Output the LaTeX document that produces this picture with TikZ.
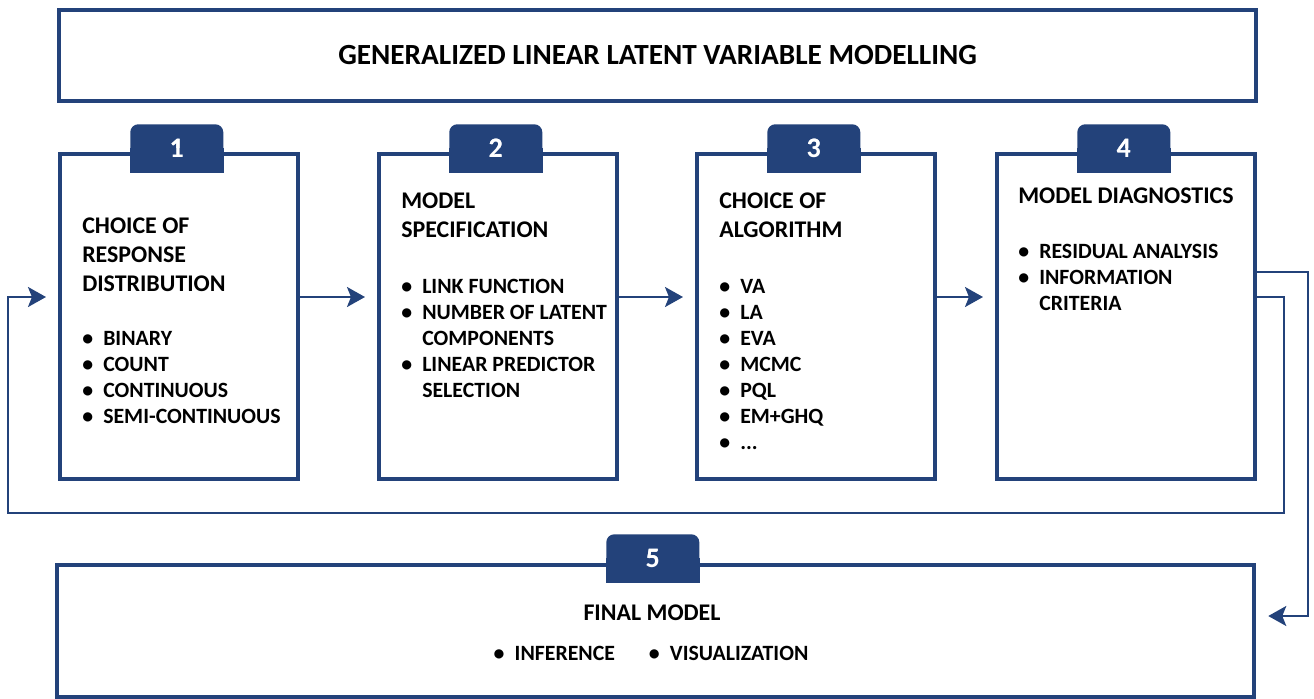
\documentclass[tikz,border=0pt]{standalone}
\usepackage{fontspec}
\setmainfont{Carlito}
\usetikzlibrary{arrows.meta}
\definecolor{navy}{RGB}{35,66,122}
\newcommand\blt{\makebox[0.525cm][l]{\textbullet}}

\begin{document}
\begin{tikzpicture}[x=0.025cm, y=-0.025cm,
    box/.style={draw=navy, line width=2.8pt, fill=white, anchor=north west, inner sep=0pt},
    tab/.style={fill=navy, rounded corners=0.2cm, anchor=north west, minimum width=2.325cm,
      minimum height=1.2cm, inner sep=0pt, text=white, font=\fontsize{20}{24}\selectfont\bfseries},
    conn/.style={draw=navy, line width=1.6pt, shorten >=0.3cm,
      -{Stealth[length=0.45cm, width=0.5cm, inset=0.1cm]}},
    head/.style={anchor=north west, inner sep=0pt, font=\fontsize{17}{20.6}\selectfont\bfseries},
    items/.style={anchor=north west, inner sep=0pt, font=\fontsize{15.5}{18.5}\selectfont\bfseries}]
    \useasboundingbox (0,0) rectangle (1314,698);

    % title
    \node[box, minimum width=29.925cm, minimum height=2.275cm,
      font=\fontsize{20.8}{24}\selectfont\bfseries] (title) at (57,8)
      {GENERALIZED LINEAR LATENT VARIABLE MODELLING};

    % the four steps
    \node[box, minimum width=5.95cm, minimum height=8.125cm] (b1) at (58,152) {};
    \node[box, minimum width=5.95cm, minimum height=8.125cm] (b2) at (377,152) {};
    \node[box, minimum width=5.95cm, minimum height=8.125cm] (b3) at (695,152) {};
    \node[box, minimum width=6.45cm, minimum height=8.125cm] (b4) at (995,152) {};
    \node[box, minimum width=29.925cm, minimum height=3.3cm] (b5) at (55,563) {};

    \node[tab] (t1) at (130,124) {1};
    \node[tab] (t2) at (449,124) {2};
    \node[tab] (t3) at (767,124) {3};
    \node[tab] (t4) at (1077,124) {4};
    \node[tab] (t5) at (606,534) {5};
    \foreach \t in {t1,t2,t3,t4,t5}
      \fill[navy] (\t.west) rectangle (\t.south east);
    \foreach \t/\n in {t1/1,t2/2,t3/3,t4/4,t5/5}
      \node[text=white, font=\fontsize{20}{24}\selectfont\bfseries] at (\t) {\n};

    % step texts
    \node[head] (h1) at (82,213.4) {\begin{tabular}{@{}l@{}}CHOICE OF\\ RESPONSE\\ DISTRIBUTION\end{tabular}};
    \node[items] (l1) at (82,326.8) {\begin{tabular}{@{}l@{}}\blt BINARY\\ \blt COUNT\\ \blt CONTINUOUS\\ \blt SEMI-CONTINUOUS\end{tabular}};

    \node[head] (h2) at (401,188.4) {\begin{tabular}{@{}l@{}}MODEL\\ SPECIFICATION\end{tabular}};
    \node[items] (l2) at (401,274.8) {\begin{tabular}{@{}l@{}}\blt LINK FUNCTION\\ \blt NUMBER OF LATENT\\
      \hspace*{0.525cm}COMPONENTS\\ \blt LINEAR PREDICTOR\\ \hspace*{0.525cm}SELECTION\end{tabular}};

    \node[head] (h3) at (719,188.4) {\begin{tabular}{@{}l@{}}CHOICE OF\\ ALGORITHM\end{tabular}};
    \node[items] (l3) at (719,274.8) {\begin{tabular}{@{}l@{}}\blt VA\\ \blt LA\\ \blt EVA\\ \blt MCMC\\
      \blt PQL\\ \blt EM+GHQ\\ \blt ...\end{tabular}};

    \node[head] (h4) at (1018,183.4) {\begin{tabular}{@{}l@{}}MODEL DIAGNOSTICS\end{tabular}};
    \node[items] (l4) at (1018,239.8) {\begin{tabular}{@{}l@{}}\blt RESIDUAL ANALYSIS\\ \blt INFORMATION\\
      \hspace*{0.525cm}CRITERIA\end{tabular}};

    \node[font=\fontsize{17}{20.6}\selectfont\bfseries] (h5) at (652,613) {FINAL MODEL};
    \node[font=\fontsize{15.5}{18.5}\selectfont\bfseries] (l5) at (651,653)
      {\blt INFERENCE\hspace{0.85cm}\blt VISUALIZATION};

    % connectors
    \coordinate (lvl) at (0,297);
    \coordinate (loopR) at (1284,513);
    \coordinate (loopL) at (8,513);
    \coordinate (outT) at (1308,272);
    \coordinate (outB) at (1308,616);
    \draw[conn] (b1.east |- lvl) -- (b2.west |- lvl);
    \draw[conn] (b2.east |- lvl) -- (b3.west |- lvl);
    \draw[conn] (b3.east |- lvl) -- (b4.west |- lvl);
    \draw[conn] (b4.east |- lvl) -| (loopR) -- (loopL) |- (b1.west |- lvl);
    \draw[conn] (b4.east |- outT) -- (outT) -- (outB) -- (b5.east |- outB);
\end{tikzpicture}
\end{document}
